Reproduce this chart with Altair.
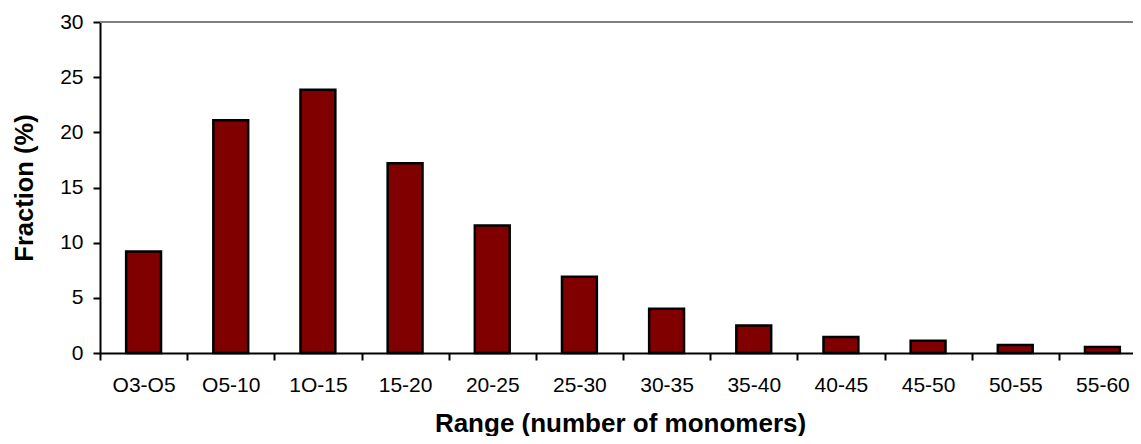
import altair as alt
import pandas as pd

categories = ["O3-O5", "O5-10", "1O-15", "15-20", "20-25", "25-30",
              "30-35", "35-40", "40-45", "45-50", "50-55", "55-60"]
fractions = [9.2, 21.1, 23.85, 17.2, 11.55, 6.9, 4.0, 2.5, 1.45, 1.1, 0.72, 0.55]
y_ticks = [0, 5, 10, 15, 20, 25, 30]
top_line = [30]

df = pd.DataFrame({"range": categories, "fraction": fractions})
df_top = pd.DataFrame({"top": top_line})

W = 1033          # visible plot width (canvas ends at window edge)
X_RANGE = 1046    # band scale runs a bit past the visible edge, as in the reference
H = 331
FONT = "Liberation Sans"

x_enc = alt.X(
    "range:N",
    sort=categories,
    scale=alt.Scale(paddingInner=0, paddingOuter=0, range=[0, X_RANGE]),
    axis=alt.Axis(
        title="Range (number of monomers)",
        tickBand="extent",
        labelAngle=0,
        labelFontSize=21,
        labelFont=FONT,
        labelColor="black",
        labelPadding=14,
        tickSize=7,
        tickWidth=2,
        tickColor="black",
        domainColor="black",
        domainWidth=2,
        titleFont=FONT,
        titleFontSize=26,
        titleFontWeight="bold",
        titleColor="black",
        titleBaseline="alphabetic",
        titleX=520,
        titleAlign="center",
        titleY=78,
    ),
)

y_enc = alt.Y(
    "fraction:Q",
    scale=alt.Scale(domain=[0, 30], nice=False),
    axis=alt.Axis(
        title="Fraction (%)",
        values=y_ticks,
        grid=False,
        labelFontSize=21,
        labelFont=FONT,
        labelColor="black",
        labelPadding=10,
        tickSize=7,
        tickWidth=2,
        tickColor="black",
        domainColor="black",
        domainWidth=2,
        titleFont=FONT,
        titleFontSize=25.5,
        titleFontWeight="bold",
        titleColor="black",
        titleBaseline="alphabetic",
        titleAngle=-90,
        titleX=-68,
        titleY=H / 2,
        titleAlign="center",
    ),
)

bars = alt.Chart(df).mark_bar(
    color="#800000",
    stroke="black",
    strokeWidth=2.5,
    width=alt.RelativeBandSize(0.4),
).encode(x=x_enc, y=y_enc)

top_rule = alt.Chart(df_top).mark_rule(color="#808080", strokeWidth=2).encode(
    y=alt.Y("top:Q", scale=alt.Scale(domain=[0, 30], nice=False)),
    x=alt.value(0),
    x2=alt.value(X_RANGE),
)

chart = (
    alt.layer(top_rule, bars)
    .properties(
        width=W,
        height=H,
        autosize=alt.AutoSizeParams(type="none"),
        padding={"left": 92, "top": 14, "right": 0, "bottom": 83},
        background="white",
    )
    .configure_view(stroke=None)
)

chart.save("out.html", embed_options={"renderer": "svg", "actions": False})
